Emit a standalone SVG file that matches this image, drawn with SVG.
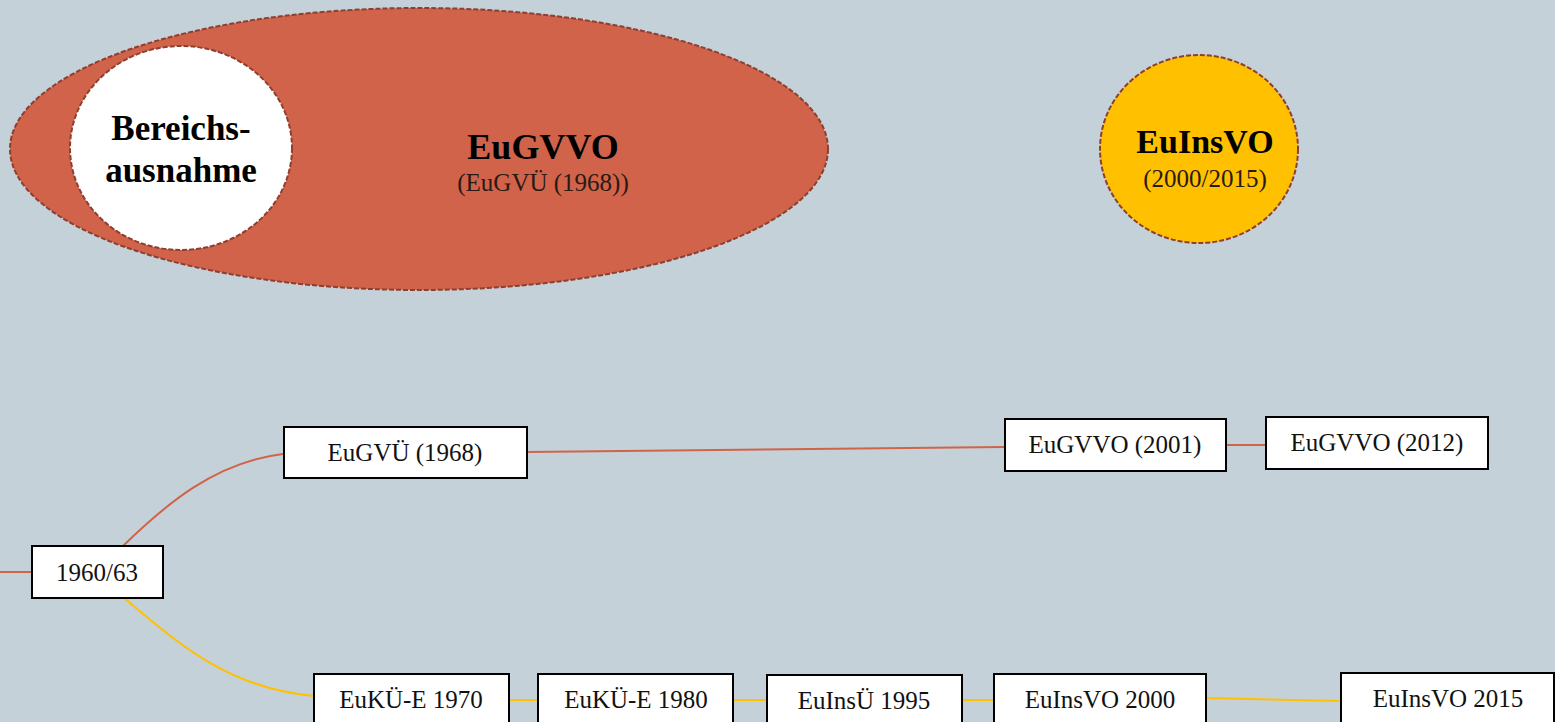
<svg xmlns="http://www.w3.org/2000/svg" width="1555" height="722" viewBox="0 0 1555 722">
<style>
.bg{fill:#C5D1D8}
.dash{stroke:#8E3F2F;stroke-width:2;stroke-dasharray:5 2}
.box{fill:#FFFFFF;stroke:#000000;stroke-width:2}
.lbl{font-family:"Liberation Serif",serif;font-size:25px;fill:#111;text-anchor:middle}
.big{font-family:"Liberation Serif",serif;font-weight:bold;fill:#000;text-anchor:middle}
.sub{font-family:"Liberation Serif",serif;font-size:25px;fill:#2a1a14;text-anchor:middle}
.red{fill:none;stroke:#D0634A;stroke-width:2}
.yel{fill:none;stroke:#FFC000;stroke-width:2}
</style>
<rect class="bg" x="0" y="0" width="1555" height="722"/>
<g id="connectors">
<path class="red" d="M0,572 L32,572"/>
<path class="red" d="M123,546 C165,505 215,462 283,454"/>
<path class="red" d="M527,452 L1004,447"/>
<path class="red" d="M1226,445 L1266,445"/>
<path class="yel" d="M124,598 C175,640 225,688 314,696"/>
<path class="yel" d="M509,700 L538,700"/>
<path class="yel" d="M733,700 L767,700"/>
<path class="yel" d="M962,700 L994,700"/>
<path class="yel" d="M1206,698 L1341,701"/>
</g>
<g id="eugvvo-area">
<ellipse class="dash" cx="419" cy="149" rx="409" ry="141" fill="#D0634A"/>
<text class="big" x="543" y="159" font-size="36">EuGVVO</text>
<text class="sub" x="543" y="191">(EuGVÜ (1968))</text>
</g>
<g id="bereichsausnahme">
<ellipse class="dash" cx="181" cy="148" rx="111" ry="102" fill="#FFFFFF"/>
<text class="big" x="181" y="140" font-size="35">Bereichs-</text>
<text class="big" x="181" y="182" font-size="35">ausnahme</text>
</g>
<g id="euinsvo-area">
<ellipse class="dash" cx="1199" cy="149" rx="99" ry="94" fill="#FFC000"/>
<text class="big" x="1205" y="153" font-size="34">EuInsVO</text>
<text class="sub" x="1205" y="187">(2000/2015)</text>
</g>
<g id="n1960">
<rect class="box" x="32" y="546" width="131" height="52"/>
<text class="lbl" x="97" y="581">1960/63</text>
</g>
<g id="euguv1968">
<rect class="box" x="284" y="427" width="243" height="51"/>
<text class="lbl" x="405" y="461">EuGVÜ (1968)</text>
</g>
<g id="eugvvo2001">
<rect class="box" x="1005" y="419" width="221" height="52"/>
<text class="lbl" x="1115" y="453">EuGVVO (2001)</text>
</g>
<g id="eugvvo2012">
<rect class="box" x="1266" y="417" width="222" height="52"/>
<text class="lbl" x="1377" y="451">EuGVVO (2012)</text>
</g>
<g id="euke1970">
<rect class="box" x="314" y="674" width="195" height="60"/>
<text class="lbl" x="411" y="708">EuKÜ-E 1970</text>
</g>
<g id="euke1980">
<rect class="box" x="538" y="674" width="195" height="60"/>
<text class="lbl" x="636" y="708">EuKÜ-E 1980</text>
</g>
<g id="euinsu1995">
<rect class="box" x="767" y="675" width="195" height="60"/>
<text class="lbl" x="864" y="709">EuInsÜ 1995</text>
</g>
<g id="euinsvo2000">
<rect class="box" x="994" y="674" width="212" height="60"/>
<text class="lbl" x="1100" y="708">EuInsVO 2000</text>
</g>
<g id="euinsvo2015">
<rect class="box" x="1341" y="673" width="213" height="60"/>
<text class="lbl" x="1448" y="707">EuInsVO 2015</text>
</g>
</svg>
